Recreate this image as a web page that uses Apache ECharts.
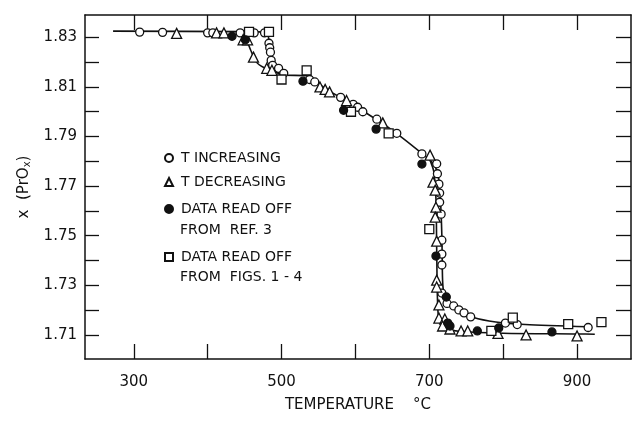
<!DOCTYPE html>
<html>
<head>
<meta charset="utf-8">
<script src="https://cdn.jsdelivr.net/npm/echarts@6/dist/echarts.min.js"></script>
<style>
  html, body { margin: 0; padding: 0; background: #fff; }
  #chart { width: 632px; height: 426px; }
</style>
</head>
<body>
<div id="chart"></div>
<script>
// tick / label positions
var xTicks = [300, 400, 500, 600, 700, 800, 900];
var xLabels = [300, 500, 700, 900];
var yTicks = [1.71, 1.72, 1.73, 1.74, 1.75, 1.76, 1.77, 1.78, 1.79, 1.80, 1.81, 1.82, 1.83];
var yLabels = [1.71, 1.73, 1.75, 1.77, 1.79, 1.81, 1.83];

// measured points [temperature, x]
var tIncreasing = [
    [308, 1.8321], [339, 1.8320], [400, 1.8318], [407, 1.8318], [444, 1.8318], [463, 1.8318],
    [477, 1.8318], [483, 1.8276], [484, 1.8258], [485, 1.8240], [486, 1.8207], [488, 1.8187],
    [496, 1.8175], [503, 1.8155], [538, 1.8130], [545, 1.8120], [580, 1.8058], [597, 1.8030],
    [603, 1.8018], [610, 1.8000], [629, 1.7970], [656, 1.7913], [690, 1.7830], [710, 1.7790],
    [711, 1.7750], [713, 1.7708], [714, 1.7672], [714, 1.7635], [716, 1.7587], [717, 1.7482],
    [717, 1.7426], [717, 1.7382], [717, 1.7269], [724, 1.7227], [733, 1.7217], [740, 1.7201],
    [747, 1.7189], [756, 1.7173], [803, 1.7148], [819, 1.7142], [915, 1.7130]
];
var tDecreasing = [
    [358, 1.8316], [412, 1.8318], [422, 1.8318], [448, 1.8290], [454, 1.8290], [462, 1.8220],
    [480, 1.8175], [487, 1.8167], [552, 1.8100], [559, 1.8090], [565, 1.8080], [588, 1.8045],
    [637, 1.7955], [701, 1.7825], [705, 1.7716], [708, 1.7684], [709, 1.7615], [708, 1.7575],
    [710, 1.7478], [710, 1.7321], [710, 1.7293], [713, 1.7221], [713, 1.7168], [721, 1.7164],
    [718, 1.7136], [728, 1.7124], [743, 1.7116], [752, 1.7116], [793, 1.7106], [831, 1.7100],
    [900, 1.7096]
];
var ref3 = [
    [433, 1.8304], [451, 1.8290], [529, 1.8123], [584, 1.8006], [628, 1.7930], [690, 1.7789],
    [709, 1.7418], [723, 1.7253], [725, 1.7148], [728, 1.7136], [765, 1.7116], [794, 1.7128],
    [866, 1.7112]
];
var figs1to4 = [
    [456, 1.8322], [483, 1.8322], [500, 1.8130], [534, 1.8167], [594, 1.8000], [645, 1.7913],
    [700, 1.7527], [784, 1.7116], [813, 1.7170], [888, 1.7144], [933, 1.7152]
];

// drawn curves
var curveMain = [
    [272, 1.8325], [445, 1.8323], [479, 1.8321], [483, 1.8290], [485, 1.8230], [488, 1.8185],
    [494, 1.8160], [502, 1.8148], [534, 1.8145], [545, 1.8125], [560, 1.8092], [600, 1.8022],
    [650, 1.7925], [690, 1.7832], [705, 1.7792], [712, 1.7745], [715, 1.7650], [717, 1.7500],
    [718, 1.7320], [720, 1.7265], [726, 1.7232], [740, 1.7200], [760, 1.7170], [790, 1.7152],
    [830, 1.7142], [915, 1.7133]
];
var curveDownLoop = [
    [440, 1.8323], [450, 1.8305], [458, 1.8250], [466, 1.8200], [476, 1.8178], [490, 1.8162],
    [502, 1.8148]
];
var curveDownStep = [
    [700, 1.7812], [706, 1.7760], [709, 1.7650], [710, 1.7450], [711, 1.7250], [713, 1.7160],
    [720, 1.7128], [740, 1.7115], [800, 1.7107], [900, 1.7104], [924, 1.7103]
];

var legendNames = {
    inc: 'T INCREASING',
    dec: 'T DECREASING',
    ref3: 'DATA READ OFF',
    figs: 'DATA READ OFF'
};

var chart = echarts.init(document.getElementById('chart'));

var FONT = 'DejaVu Sans';
var ink = '#111';

function frameAxis(extra) {
    var base = {
        type: 'value',
        axisLine: { show: true, onZero: false, lineStyle: { color: ink, width: 1.5 } },
        axisTick: { show: true, inside: true, length: 15, lineStyle: { color: ink, width: 1.3 } },
        splitLine: { show: false },
        axisLabel: { show: false }
    };
    return Object.assign(base, extra);
}

function legendAt(name, top) {
    return {
        data: [name],
        left: 164,
        top: top,
        padding: 0,
        itemWidth: 8,
        itemHeight: 8,
        itemGap: 0,
        selectedMode: false,
        formatter: function (n) { return legendNames[n]; },
        textStyle: { fontFamily: FONT, fontSize: 14, color: ink, lineHeight: 14, padding: [0, 0, 0, 3] }
    };
}

function pointStyle(fill) {
    return { color: fill, borderColor: ink, borderWidth: 1.3, opacity: 1 };
}

var curveStyle = { color: ink, width: 1.6 };

var option = {
    backgroundColor: '#fff',
    animation: false,
    grid: { left: 85, right: 1, top: 15, bottom: 67, containLabel: false },
    legend: [
        legendAt('inc', 151),
        legendAt('dec', 175),
        legendAt('ref3', 202),
        legendAt('figs', 250)
    ],
    graphic: [
        { type: 'text', left: 180, top: 223, style: { text: 'FROM  REF. 3', font: '14px "DejaVu Sans"', fill: ink } },
        { type: 'text', left: 180, top: 270, style: { text: 'FROM  FIGS. 1 - 4', font: '14px "DejaVu Sans"', fill: ink } }
    ],
    xAxis: [
        frameAxis({
            position: 'bottom',
            min: 234, max: 973,
            axisTick: { show: true, inside: true, length: 15, customValues: xTicks, lineStyle: { color: ink, width: 1.3 } },
            axisLabel: { show: true, customValues: xLabels, margin: 16, fontFamily: FONT, fontSize: 15, color: ink },
            name: 'TEMPERATURE    °C',
            nameLocation: 'middle',
            nameGap: 39,
            nameTextStyle: { fontFamily: FONT, fontSize: 15, color: ink }
        }),
        frameAxis({
            position: 'top',
            min: 234, max: 973,
            axisTick: { show: true, inside: true, length: 15, customValues: xTicks, lineStyle: { color: ink, width: 1.3 } }
        })
    ],
    yAxis: [
        frameAxis({
            position: 'left',
            min: 1.7003, max: 1.839,
            axisTick: { show: true, inside: true, length: 14, customValues: yTicks, lineStyle: { color: ink, width: 1.3 } },
            axisLabel: {
                show: true, customValues: yLabels, margin: 8, fontFamily: FONT, fontSize: 15, color: ink,
                formatter: function (v) { return v.toFixed(2); }
            },
            name: 'x  (PrO{sub|x})',
            nameLocation: 'middle',
            nameRotate: 90,
            nameGap: 48,
            nameTextStyle: {
                fontFamily: FONT, fontSize: 15, color: ink,
                rich: { sub: { fontFamily: FONT, fontSize: 10, color: ink, padding: [7, 0, 0, 0] } }
            }
        }),
        frameAxis({
            position: 'right',
            min: 1.7003, max: 1.839,
            axisTick: { show: true, inside: true, length: 15, customValues: yTicks, lineStyle: { color: ink, width: 1.3 } }
        })
    ],
    series: [
        { type: 'line', data: curveMain, showSymbol: false, smooth: 0.25, lineStyle: curveStyle, silent: true, z: 1 },
        { type: 'line', data: curveDownLoop, showSymbol: false, smooth: 0.25, lineStyle: curveStyle, silent: true, z: 1 },
        { type: 'line', data: curveDownStep, showSymbol: false, smooth: 0.25, lineStyle: curveStyle, silent: true, z: 1 },
        { name: 'inc', type: 'scatter', data: tIncreasing, symbol: 'circle', symbolSize: 8, itemStyle: pointStyle('#fff'), z: 3 },
        { name: 'dec', type: 'scatter', data: tDecreasing, symbol: 'triangle', symbolSize: 10, itemStyle: pointStyle('#fff'), z: 3 },
        { name: 'ref3', type: 'scatter', data: ref3, symbol: 'circle', symbolSize: 8, itemStyle: pointStyle(ink), z: 4 },
        { name: 'figs', type: 'scatter', data: figs1to4, symbol: 'rect', symbolSize: 9, itemStyle: pointStyle('#fff'), z: 3 }
    ]
};

chart.setOption(option);
</script>
</body>
</html>
